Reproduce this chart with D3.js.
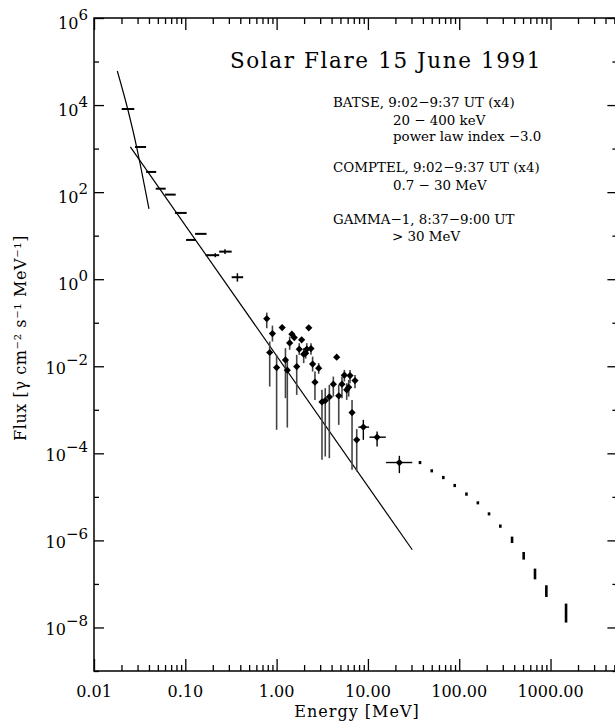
<!DOCTYPE html>
<html>
<head>
<meta charset="utf-8">
<script src="https://cdn.jsdelivr.net/npm/d3@7"></script>
<style>
  body { margin: 0; background: #fff; }
  text { font-family: "DejaVu Serif", serif; fill: #000; }
</style>
</head>
<body>
<div id="chart"></div>
<script>
// ---------- data ----------
// BATSE energy bins [MeV] and flux
const batseELo  = [0.0201, 0.0281, 0.0372, 0.0474, 0.060, 0.077, 0.102, 0.128, 0.167, 0.235, 0.322];
const batseEHi  = [0.0276, 0.0372, 0.048, 0.061, 0.0785, 0.1035, 0.131, 0.171, 0.235, 0.322, 0.43];
const batseEMid = [0.0236, 0.0323, 0.042, 0.0538, 0.0686, 0.0898, 0.115, 0.149, 0.213, 0.272, 0.372];
const batseFlux = [8130, 1090, 291, 120, 87.7, 33.3, 7.98, 11.0, 3.56, 4.30, 1.11];
const batseLo   = [8130, 1090, 291, 120, 87.7, 33.3, 7.98, 11.0, 3.2, 3.8, 0.88];
const batseHi   = [8130, 1090, 291, 120, 87.7, 33.3, 7.98, 11.0, 3.95, 4.86, 1.37];

// thermal component and power law (index -3.0)
const thermalE    = [0.0180, 0.02339, 0.02936, 0.03191, 0.04003];
const thermalFlux = [6.07e4, 8.13e3, 1.07e3, 461, 41.1];
const powerE      = [0.025, 30.6];
const powerFlux   = [1100, 6.1e-7];

// COMPTEL points
const comptelE    = [0.78, 0.90, 0.84, 1.15, 1.00, 1.25, 1.31, 1.39, 1.47, 1.56, 1.77, 1.66, 1.88, 1.98, 2.08, 2.14,
                     2.25, 2.38, 2.48, 2.63, 2.89, 3.14, 3.41, 3.78, 4.18, 4.55, 4.79, 5.20, 5.52, 5.86, 6.16, 6.37,
                     7.22, 6.70, 7.54];
const comptelFlux = [0.124, 0.0564, 0.0207, 0.0774, 0.00933, 0.0140, 0.00813, 0.0344, 0.0546, 0.0456, 0.0247, 0.00984,
                     0.0404, 0.0190, 0.0200, 0.0247, 0.0762, 0.0255, 0.0112, 0.00432, 0.00904, 0.00152, 0.00163, 0.00198,
                     0.00388, 0.0162, 0.00209, 0.00388, 0.00625, 0.00287, 0.00331, 0.00611, 0.0047, 8.65e-4, 2.04e-4];
const comptelLo   = [0.075, 0.0369, 0.00342, 0.072, 3.47e-4, 0.00185, 3.91e-4, 0.0238, 0.048, 0.040, 0.0183, 0.0022,
                     0.036, 0.0118, 0.015, 0.0183, 0.072, 0.0183, 0.00755, 0.00169, 0.0067, 7.1e-5, 8.45e-5, 7.76e-5,
                     0.00201, 0.0152, 4.51e-4, 0.00185, 0.00446, 0.00169, 0.00201, 0.00409, 0.00314, 4.18e-5, 3.82e-5];
const comptelHi   = [0.171, 0.086, 0.0369, 0.083, 0.0183, 0.0261, 0.0140, 0.0481, 0.062, 0.052, 0.0339, 0.0183,
                     0.046, 0.0261, 0.026, 0.0339, 0.081, 0.0339, 0.0167, 0.00755, 0.0118, 0.00287, 0.00314, 0.00374,
                     0.0058, 0.0172, 0.00374, 0.0058, 0.00826, 0.00409, 0.00488, 0.00826, 0.00634, 0.00169, 3.6e-4];

// wide-bin points with energy bars
const crossE    = [8.91, 12.6, 22.1];
const crossELo  = [7.85, 10.4, 15.8];
const crossEHi  = [10.3, 15.7, 30.6];
const crossFlux = [4.0e-4, 2.35e-4, 6.15e-5];
const crossLo   = [2.04e-4, 1.43e-4, 3.51e-5];
const crossHi   = [5.88e-4, 3.17e-4, 8.77e-5];

// GAMMA-1 points
const gammaE    = [37.2, 50.0, 67.0, 89.3, 120, 160, 212, 282, 379, 508, 676, 900, 1479];
const gammaFlux = [6.15e-5, 3.96e-5, 2.78e-5, 1.82e-5, 1.16e-5, 7.3e-6, 4.08e-6, 2.13e-6, 1.03e-6, 4.43e-7, 1.71e-7, 6.71e-8, 2.14e-8];
const gammaLo   = [5.8e-5, 3.75e-5, 2.62e-5, 1.72e-5, 1.09e-5, 6.9e-6, 3.85e-6, 2.0e-6, 8.95e-7, 3.72e-7, 1.31e-7, 5.15e-8, 1.33e-8];
const gammaHi   = [6.5e-5, 4.2e-5, 2.95e-5, 1.93e-5, 1.23e-5, 7.7e-6, 4.3e-6, 2.26e-6, 1.19e-6, 5.27e-7, 2.19e-7, 9.08e-8, 3.44e-8];

// axes
const xMajor = [0.01, 0.1, 1, 10, 100, 1000];
const xMajorLabels = ["0.01", "0.10", "1.00", "10.00", "100.00", "1000.00"];
const yLabelExps = [6, 4, 2, 0, -2, -4, -6, -8];

const titleText = "Solar Flare 15 June 1991";
const legendLines = [
  "BATSE, 9:02\u22129:37 UT (x4)",
  "20 \u2212 400 keV",
  "power law index \u22123.0",
  "COMPTEL, 9:02\u22129:37 UT (x4)",
  "0.7 \u2212 30 MeV",
  "GAMMA\u22121, 8:37\u22129:00 UT",
  "> 30 MeV"
];

// ---------- layout ----------
const width = 615, height = 722;
const svg = d3.select("#chart").append("svg")
  .attr("width", width).attr("height", height);

const x = d3.scaleLog().domain([0.01, 5400]).range([94, 617.4]);
const y = d3.scaleLog().domain([1e-9, 1e6]).range([671, 18]);
const [x0, x1] = x.range(), [y0, y1] = y.range();

// ---------- ticks ----------
const xMinor = [];
xMajor.forEach(d => d3.range(2, 10).forEach(k => { if (d * k < x.domain()[1]) xMinor.push(d * k); }));
const yEven = [], yOdd = [];
d3.range(-9, 7).forEach(e => (e % 2 === 0 ? yEven : yOdd).push(Math.pow(10, e)));

function addAxis(axis, tx, ty) {
  const g = svg.append("g").attr("transform", `translate(${tx},${ty})`).call(axis);
  g.select(".domain").remove();
  g.selectAll("line").attr("stroke", "#000").attr("stroke-width", 1.3);
  g.selectAll("text").remove();
}
addAxis(d3.axisBottom(x).tickValues(xMajor).tickSize(-12), 0, y0);
addAxis(d3.axisBottom(x).tickValues(xMinor).tickSize(-6), 0, y0);
addAxis(d3.axisTop(x).tickValues(xMajor).tickSize(-12), 0, y1);
addAxis(d3.axisTop(x).tickValues(xMinor).tickSize(-6), 0, y1);
addAxis(d3.axisLeft(y).tickValues(yEven).tickSize(-10), x0, 0);
addAxis(d3.axisLeft(y).tickValues(yOdd).tickSize(-5), x0, 0);
addAxis(d3.axisRight(y).tickValues(yEven).tickSize(-10), x1, 0);
addAxis(d3.axisRight(y).tickValues(yOdd).tickSize(-5), x1, 0);

svg.append("rect")
  .attr("x", x0).attr("y", y1).attr("width", x1 - x0).attr("height", y0 - y1)
  .attr("fill", "none").attr("stroke", "#000").attr("stroke-width", 1.5);

// tick labels
svg.selectAll(".xlab").data(xMajor).enter().append("text")
  .attr("x", d => x(d)).attr("y", y0 + 26)
  .attr("text-anchor", "middle").attr("font-size", 16)
  .text((d, i) => xMajorLabels[i]);

const ylab = svg.selectAll(".ylab").data(yLabelExps).enter().append("text")
  .attr("x", 88).attr("y", d => y(Math.pow(10, d)) + (d >= 0 ? 10.5 : 7.5))
  .attr("text-anchor", "end").attr("font-size", 16);
ylab.append("tspan").text("10");
ylab.append("tspan").attr("dy", -9).attr("font-size", 15)
  .text(d => (d < 0 ? "\u2212" : "") + Math.abs(d));

// axis titles
svg.append("text")
  .attr("x", 357).attr("y", 717).attr("text-anchor", "middle")
  .attr("font-size", 16).attr("letter-spacing", 1)
  .text("Energy [MeV]");

svg.append("text")
  .attr("transform", "translate(26,338) rotate(-90)")
  .attr("text-anchor", "middle").attr("font-size", 16).attr("letter-spacing", 0.6)
  .text("Flux [\u03b3 cm\u207b\u00b2 s\u207b\u00b9 MeV\u207b\u00b9]");

// title & legend
svg.append("text")
  .attr("x", 230).attr("y", 68)
  .attr("font-size", 21.5).attr("letter-spacing", 1.6)
  .text(titleText);

const legendX = [333, 393, 393, 333, 393, 333, 392];
const legendY = [107, 125, 141, 172, 190, 224, 241];
svg.selectAll(".leg").data(legendLines).enter().append("text")
  .attr("x", (d, i) => legendX[i]).attr("y", (d, i) => legendY[i])
  .attr("font-size", 13.4)
  .text(d => d);

// ---------- model curves ----------
const line = d3.line().x(d => x(d[0])).y(d => y(d[1]));
svg.append("path")
  .datum(d3.zip(thermalE, thermalFlux))
  .attr("d", line.curve(d3.curveMonotoneX))
  .attr("fill", "none").attr("stroke", "#000").attr("stroke-width", 1.2);
svg.append("path")
  .datum(d3.zip(powerE, powerFlux))
  .attr("d", d3.line().x(d => x(d[0])).y(d => y(d[1])))
  .attr("fill", "none").attr("stroke", "#000").attr("stroke-width", 1.2);

// ---------- BATSE ----------
const batse = d3.range(batseFlux.length);
svg.selectAll(".bh").data(batse).enter().append("line")
  .attr("x1", i => x(batseELo[i])).attr("x2", i => x(batseEHi[i]))
  .attr("y1", i => y(batseFlux[i])).attr("y2", i => y(batseFlux[i]))
  .attr("stroke", "#000").attr("stroke-width", 2);
svg.selectAll(".bv").data(batse.filter(i => batseHi[i] > batseLo[i])).enter().append("line")
  .attr("x1", i => x(batseEMid[i])).attr("x2", i => x(batseEMid[i]))
  .attr("y1", i => y(batseLo[i])).attr("y2", i => y(batseHi[i]))
  .attr("stroke", "#000").attr("stroke-width", 1.5);

// ---------- COMPTEL ----------
const comptel = d3.range(comptelFlux.length);
svg.selectAll(".ce").data(comptel).enter().append("line")
  .attr("x1", i => x(comptelE[i])).attr("x2", i => x(comptelE[i]))
  .attr("y1", i => y(comptelLo[i])).attr("y2", i => y(comptelHi[i]))
  .attr("stroke", "#444").attr("stroke-width", 1.6);

const diamond = d3.symbol(d3.symbolSquare, 26);
svg.selectAll(".cp").data(comptel).enter().append("path")
  .attr("d", diamond)
  .attr("transform", i => `translate(${x(comptelE[i])},${y(comptelFlux[i])}) rotate(45)`)
  .attr("fill", "#000");

// wide bins
const cross = d3.range(crossFlux.length);
svg.selectAll(".xh").data(cross).enter().append("line")
  .attr("x1", i => x(crossELo[i])).attr("x2", i => x(crossEHi[i]))
  .attr("y1", i => y(crossFlux[i])).attr("y2", i => y(crossFlux[i]))
  .attr("stroke", "#000").attr("stroke-width", 1.4);
svg.selectAll(".xv").data(cross).enter().append("line")
  .attr("x1", i => x(crossE[i])).attr("x2", i => x(crossE[i]))
  .attr("y1", i => y(crossLo[i])).attr("y2", i => y(crossHi[i]))
  .attr("stroke", "#000").attr("stroke-width", 1.4);
svg.selectAll(".xp").data(cross).enter().append("path")
  .attr("d", diamond)
  .attr("transform", i => `translate(${x(crossE[i])},${y(crossFlux[i])}) rotate(45)`)
  .attr("fill", "#000");

// ---------- GAMMA-1 ----------
svg.selectAll(".gm").data(d3.range(gammaFlux.length)).enter().append("line")
  .attr("x1", i => x(gammaE[i])).attr("x2", i => x(gammaE[i]))
  .attr("y1", i => y(gammaLo[i]) + 0.5).attr("y2", i => y(gammaHi[i]) - 0.5)
  .attr("stroke", "#000").attr("stroke-width", 2.6);
</script>
</body>
</html>
